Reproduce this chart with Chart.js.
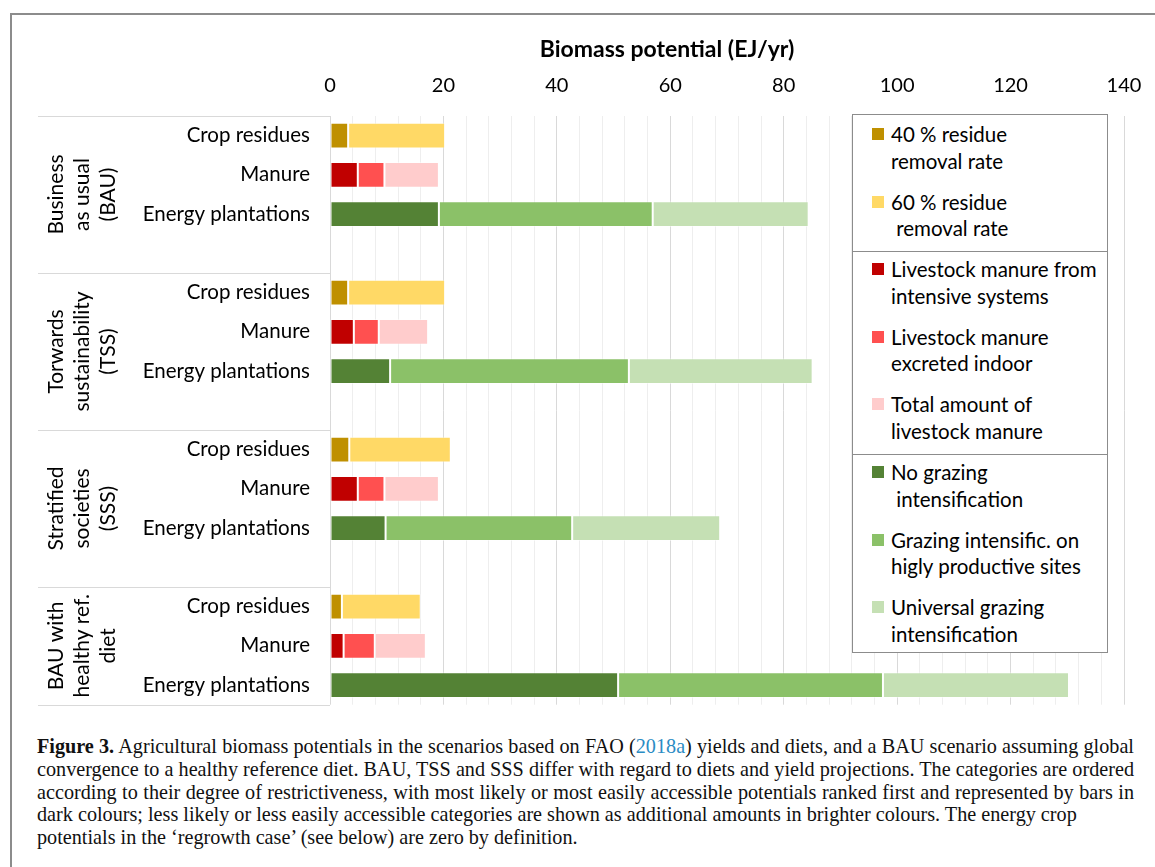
<!DOCTYPE html>
<html>
<head>
<meta charset="utf-8">
<script src="https://cdn.jsdelivr.net/npm/chart.js@4.4.1/dist/chart.umd.min.js"></script>
<style>
  body { margin: 0; background: #fff; width: 1155px; height: 867px; overflow: hidden; position: relative; font-family: Lato, sans-serif; }
  #frame { position: absolute; left: 10px; top: 13px; right: -5px; bottom: -5px; border-top: 2px solid #8c8c8c; border-left: 2px solid #8c8c8c; }
  #wrap { position: absolute; left: 0; top: 0; width: 1155px; height: 729px; }
  #legend { position: absolute; left: 852px; top: 114px; width: 256px; height: 539px; box-sizing: border-box;
            border: 1.5px solid #8c8c8c; background: #fff; font-family: Lato, sans-serif; font-size: 20.5px; color: #000; }
  .sec { box-sizing: border-box; padding-top: 6px; }
  .sec + .sec { border-top: 1.5px solid #8c8c8c; padding-top: 4px; }
  .item { position: relative; padding-left: 38px; line-height: 26.7px; margin-bottom: 14.3px; white-space: pre; }
  .item i { position: absolute; left: 19px; top: 7px; width: 12px; height: 12px; }
  #caption { position: absolute; left: 37px; top: 735px; width: 1097px; font-family: "Liberation Serif", serif; font-size: 20.2px; line-height: 22.75px; color: #111; }
  #caption div { white-space: nowrap; }
  #caption .j { text-align: justify; text-align-last: justify; white-space: normal; }
  #caption b { font-weight: bold; }
  #caption .ref { color: #2b8cc4; }
</style>
</head>
<body>
<div id="frame"></div>
<div id="wrap"><canvas id="chart" width="1155" height="729"></canvas></div>
<div id="legend"></div>
<div id="caption">
  <div class="j"><b>Figure 3.</b> Agricultural biomass potentials in the scenarios based on FAO (<span class="ref">2018a</span>) yields and diets, and a BAU scenario assuming global</div>
  <div class="j">convergence to a healthy reference diet. BAU, TSS and SSS differ with regard to diets and yield projections. The categories are ordered</div>
  <div class="j">according to their degree of restrictiveness, with most likely or most easily accessible potentials ranked first and represented by bars in</div>
  <div>dark colours; less likely or less easily accessible categories are shown as additional amounts in brighter colours. The energy crop</div>
  <div>potentials in the ‘regrowth case’ (see below) are zero by definition.</div>
</div>
<script>
"use strict";

// scenarios (group labels, one entry per line of the rotated text)
const scenarios = [
  ['Business', 'as usual', '(BAU)'],
  ['Torwards', 'sustainability', '(TSS)'],
  ['Stratified', 'societies', '(SSS)'],
  ['BAU with', 'healthy ref.', 'diet']
];
const sources = ['Crop residues', 'Manure', 'Energy plantations'];
const xTicks = [0, 20, 40, 60, 80, 100, 120, 140];

// EJ/yr, one value per scenario; each brighter category is added on top of the darker one
const residues40 = [3.2, 3.2, 3.4, 2.1];
const residues60 = [17.1, 17.1, 17.9, 13.9];
const manureIntensive = [4.9, 4.2, 4.9, 2.4];
const manureIndoor = [4.7, 4.4, 4.7, 5.5];
const manureTotal = [9.6, 8.7, 9.6, 9.0];
const plantNoGrazing = [19.2, 10.6, 9.8, 50.8];
const plantHighProd = [37.7, 42.1, 32.9, 46.7];
const plantUniversal = [27.5, 32.4, 26.1, 32.8];

const series = [
  { label: '40 % residue\nremoval rate', color: '#bf9000', source: 0, values: residues40 },
  { label: '60 % residue\n removal rate', color: '#ffd966', source: 0, values: residues60 },
  { label: 'Livestock manure from\nintensive systems', color: '#c00000', source: 1, values: manureIntensive },
  { label: 'Livestock manure\nexcreted indoor', color: '#ff5050', source: 1, values: manureIndoor },
  { label: 'Total amount of\nlivestock manure', color: '#ffcccc', source: 1, values: manureTotal },
  { label: 'No grazing\n intensification', color: '#548235', source: 2, values: plantNoGrazing },
  { label: 'Grazing intensific. on\nhigly productive sites', color: '#8bc168', source: 2, values: plantHighProd },
  { label: 'Universal grazing\nintensification', color: '#c5e0b4', source: 2, values: plantUniversal }
];

// rows: 3 sources per scenario, with an empty spacer row between scenarios
const rows = [];
scenarios.forEach((s, g) => {
  sources.forEach(src => rows.push(src));
  if (g < scenarios.length - 1) rows.push('');
});
const rowIndex = (g, src) => g * (sources.length + 1) + src;

const datasets = series.map(s => {
  const data = rows.map(() => null);
  s.values.forEach((v, g) => { data[rowIndex(g, s.source)] = v; });
  return {
    label: s.label,
    data: data,
    backgroundColor: s.color,
    borderColor: 'rgba(255,255,255,0.45)',
    borderWidth: 1,
    borderSkipped: false,
    barPercentage: 0.66,
    categoryPercentage: 1
  };
});

const textColor = '#000';
const FONT = 'Lato';

// scenario labels, separators and axis title
const groupPlugin = {
  id: 'groups',
  afterDraw(chart) {
    const ctx = chart.ctx;
    const y = chart.scales.y;
    const area = chart.chartArea;
    const step = y.getPixelForValue(1) - y.getPixelForValue(0);
    const edges = [area.top];
    scenarios.forEach((s, g) => {
      const last = rowIndex(g, sources.length - 1) + (g < scenarios.length - 1 ? 1 : 0);
      edges.push(Math.min(y.getPixelForValue(last) + step / 2, area.bottom));
    });

    ctx.save();
    ctx.strokeStyle = '#d9d9d9';
    ctx.lineWidth = 1;
    edges.forEach(e => {
      ctx.beginPath();
      ctx.moveTo(y.left, Math.round(e) + 0.5);
      ctx.lineTo(area.left, Math.round(e) + 0.5);
      ctx.stroke();
    });

    ctx.fillStyle = textColor;
    ctx.font = '21px ' + FONT;
    ctx.textAlign = 'center';
    ctx.textBaseline = 'middle';
    scenarios.forEach((lines, g) => {
      const cy = (edges[g] + edges[g + 1]) / 2;
      lines.forEach((line, i) => {
        ctx.save();
        ctx.translate(y.left + 18 + i * 26, cy);
        ctx.rotate(-Math.PI / 2);
        ctx.fillText(line, 0, 0);
        ctx.restore();
      });
    });

    ctx.font = 'bold 23px ' + FONT;
    ctx.fillText('Biomass potential (EJ/yr)', 667, 50);
    ctx.restore();
  }
};

new Chart(document.getElementById('chart'), {
  type: 'bar',
  data: { labels: rows, datasets: datasets },
  options: {
    indexAxis: 'y',
    responsive: false,
    animation: false,
    devicePixelRatio: 1,
    layout: { padding: { left: 38, right: 31, top: 0, bottom: 15 } },
    plugins: { legend: { display: false }, tooltip: { enabled: false } },
    scales: {
      x: {
        position: 'top',
        stacked: true,
        min: 0,
        max: 140,
        afterBuildTicks(scale) {
          const t = [];
          for (let v = 0; v <= 140; v += 4) t.push({ value: v });
          scale.ticks = t;
        },
        afterFit(scale) {
          scale.height = 116;
          scale.paddingLeft = 0;
          scale.paddingRight = 0;
        },
        ticks: {
          autoSkip: false,
          maxRotation: 0,
          padding: 18,
          color: textColor,
          font: { family: FONT, size: 20 },
          callback: v => xTicks.includes(v) ? v : ''
        },
        grid: {
          drawTicks: false,
          color: c => xTicks.includes(c.tick.value) ? '#d9d9d9' : '#eeeeee'
        },
        border: { display: false }
      },
      y: {
        stacked: true,
        afterFit(scale) { scale.width = 292; },
        ticks: { padding: 12, color: textColor, font: { family: FONT, size: 20.5 } },
        grid: { display: false },
        border: { display: false }
      }
    }
  },
  plugins: [groupPlugin]
});

// legend boxes, one per source
const legend = document.getElementById('legend');
const secHeights = [136, 203, 200];
sources.forEach((src, k) => {
  const sec = document.createElement('div');
  sec.className = 'sec';
  sec.style.height = secHeights[k] + 'px';
  series.filter(s => s.source === k).forEach(s => {
    const item = document.createElement('div');
    item.className = 'item';
    item.innerHTML = `<i style="background:${s.color}"></i>${s.label}`;
    sec.appendChild(item);
  });
  legend.appendChild(sec);
});
</script>
</body>
</html>
